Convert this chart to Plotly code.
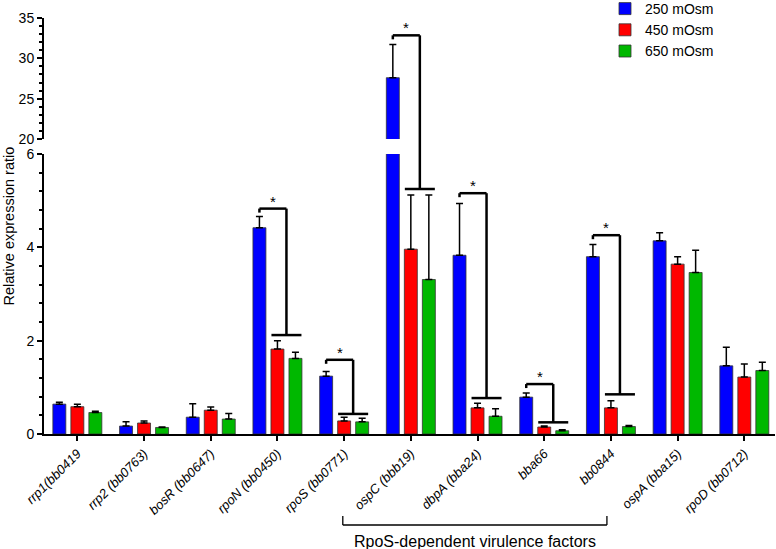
import plotly.graph_objects as go

categories = ["rrp1(bb0419", "rrp2 (bb0763)", "bosR (bb0647)", "rpoN (bb0450)",
              "rpoS (bb0771)", "ospC (bbb19)", "dbpA (bba24)", "bba66", "bb0844",
              "ospA (bba15)", "rpoD (bb0712)"]
series_names = ["250 mOsm", "450 mOsm", "650 mOsm"]
colors = ["#0000FF", "#FF0000", "#00B800"]

val_250 = [0.64, 0.17, 0.36, 4.42, 1.24, 27.6, 3.83, 0.79, 3.80, 4.14, 1.46]
err_250 = [0.68, 0.26, 0.65, 4.66, 1.34, 31.7, 4.94, 0.88, 4.06, 4.31, 1.86]
val_450 = [0.585, 0.235, 0.51, 1.82, 0.28, 3.96, 0.56, 0.15, 0.56, 3.64, 1.22]
err_450 = [0.64, 0.28, 0.58, 2.00, 0.36, 5.12, 0.66, 0.17, 0.71, 3.80, 1.50]
val_650 = [0.46, 0.14, 0.32, 1.62, 0.26, 3.31, 0.38, 0.07, 0.16, 3.46, 1.36]
err_650 = [0.49, 0.15, 0.44, 1.75, 0.34, 5.12, 0.54, 0.09, 0.18, 3.94, 1.54]

# significance brackets: (category index, top value, bottom value)
brackets = [(3, 4.83, 2.12), (4, 1.59, 0.43), (5, 32.85, 5.25),
            (6, 5.16, 0.77), (7, 1.07, 0.25), (8, 4.26, 0.85)]

y_title = "Relative expression ratio"
group_label = "RpoS-dependent virulence factors"
group_span = (3.98, 7.94)

W, H = 776, 549
ml, mr, mt = 44, 1, 18
mb = H - 434
ph = H - mt - mb
pw = W - ml - mr
L_TOP = (434 - 154) / ph
U_BOT = (434 - 139) / ph
LOW_RANGE = [0, 6]
UP_RANGE = [20, 35]


def to_paper(v):
    if v <= LOW_RANGE[1]:
        return v / LOW_RANGE[1] * L_TOP
    return U_BOT + (v - UP_RANGE[0]) / (UP_RANGE[1] - UP_RANGE[0]) * (1 - U_BOT)


fig = go.Figure()
vals = [val_250, val_450, val_650]
errs = [err_250, err_450, err_650]
for name, col, v, e in zip(series_names, colors, vals, errs):
    plus = [ei - vi for vi, ei in zip(v, e)]
    for xa, ya, show in (("x", "y", True), ("x2", "y2", False)):
        fig.add_trace(go.Bar(
            x=categories, y=v, name=name, xaxis=xa, yaxis=ya, showlegend=show,
            marker=dict(color=col, line=dict(color="#333333", width=0.8)),
            error_y=dict(type="data", array=plus, arrayminus=[0] * len(v),
                         symmetric=False, color="black", thickness=1.5, width=3.5),
        ))

off = 0.27
half = 0.09
lw = 2.5
shapes = []
annotations = []
for ci, top, bot in brackets:
    xl = ci - off
    xv = ci + off / 2
    yt = to_paper(top)
    yb = to_paper(bot)
    drop = 4 / ph
    shapes.append(dict(type="line", xref="x", yref="paper", x0=xl, x1=xv, y0=yt, y1=yt,
                       line=dict(color="black", width=lw)))
    shapes.append(dict(type="line", xref="x", yref="paper", x0=xl, x1=xl, y0=yt, y1=yt - drop,
                       line=dict(color="black", width=lw)))
    shapes.append(dict(type="line", xref="x", yref="paper", x0=xv, x1=xv, y0=yt, y1=yb,
                       line=dict(color="black", width=lw)))
    shapes.append(dict(type="line", xref="x", yref="paper", x0=ci - half, x1=ci + off + half,
                       y0=yb, y1=yb, line=dict(color="black", width=lw)))
    annotations.append(dict(x=(xl + xv) / 2, y=yt, xref="x", yref="paper", text="*",
                            showarrow=False, yanchor="bottom", yshift=-3,
                            font=dict(size=15, color="black")))

# group bracket below the tick labels
gy_top = -(516 - 434) / ph
gy_line = -(525 - 434) / ph
for gx in group_span:
    shapes.append(dict(type="line", xref="x", yref="paper", x0=gx, x1=gx,
                       y0=gy_top, y1=gy_line, line=dict(color="black", width=1.3)))
shapes.append(dict(type="line", xref="x", yref="paper", x0=group_span[0], x1=group_span[1],
                   y0=gy_line, y1=gy_line, line=dict(color="black", width=1.3)))
annotations.append(dict(x=(475 - ml) / pw, y=-(541.5 - 434) / ph, xref="paper", yref="paper",
                        text=group_label, showarrow=False, xanchor="center", yanchor="middle",
                        font=dict(size=16, color="black")))
annotations.append(dict(x=(8 - ml) / pw, y=(434 - 226.5) / ph, xref="paper", yref="paper",
                        text=y_title, textangle=-90, showarrow=False,
                        xanchor="center", yanchor="middle",
                        font=dict(size=14.5, color="black")))

font_family = "Liberation Sans, Arial, sans-serif"
fig.update_layout(
    width=W, height=H,
    margin=dict(l=ml, r=mr, t=mt, b=mb, autoexpand=False),
    paper_bgcolor="white", plot_bgcolor="white",
    barmode="group", bargap=0.19, bargroupgap=0.28,
    font=dict(family=font_family, size=13, color="black"),
    showlegend=True,
    legend=dict(x=(605 - ml) / pw, y=(434 + 7) / ph, xanchor="left", yanchor="top",
                font=dict(size=14), bgcolor="rgba(0,0,0,0)", tracegroupgap=0,
                itemwidth=30),
    xaxis=dict(domain=[0, 1], anchor="y", range=[-0.5, 10.46], showline=True,
               linecolor="black", linewidth=2, ticks="outside", ticklen=5, tickwidth=2,
               tickcolor="black", tickangle=-45, showgrid=False, zeroline=False,
               tickfont=dict(size=13), tickvals=categories,
               ticktext=["<i>" + c + "</i>" for c in categories]),
    xaxis2=dict(domain=[0, 1], anchor="y2", matches="x", visible=False, showgrid=False),
    yaxis=dict(domain=[0, L_TOP], range=LOW_RANGE, anchor="x", showline=True,
               linecolor="black", linewidth=2, ticks="outside", ticklen=5, tickwidth=2,
               tickcolor="black", tickvals=[0, 2, 4, 6], showgrid=False, zeroline=False,
               tickfont=dict(size=14),
               minor=dict(ticks="outside", ticklen=3, tickwidth=1.5, tickcolor="black",
                          dtick=0.4, tick0=0, showgrid=False)),
    yaxis2=dict(domain=[U_BOT, 1], range=UP_RANGE, anchor="x2", showline=True,
                linecolor="black", linewidth=2, ticks="outside", ticklen=5, tickwidth=2,
                tickcolor="black", tickvals=[20, 25, 30, 35], showgrid=False, zeroline=False,
                tickfont=dict(size=14),
                minor=dict(ticks="outside", ticklen=3, tickwidth=1.5, tickcolor="black",
                           dtick=1, tick0=20, showgrid=False)),
    shapes=shapes,
    annotations=annotations,
)

fig.write_html("out.html", config={"displayModeBar": False},
               post_script="document.body.style.margin='0';document.body.style.overflow='hidden';")
